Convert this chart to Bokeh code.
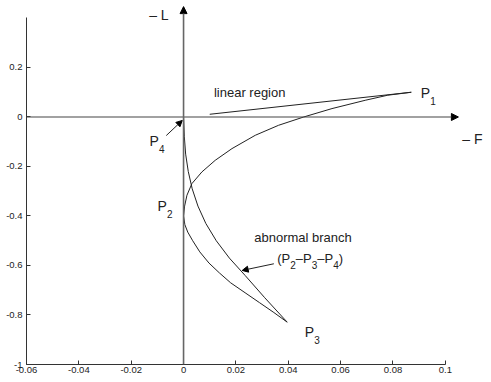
from bokeh.plotting import figure
from bokeh.models import Range1d, FixedTicker, Arrow, NormalHead, Label
from bokeh.embed import file_html
from bokeh.resources import INLINE

# ---------------- data ----------------
# outer branch: P1 -> P2 -> P3
branch_a_x = [0.087, 0.078, 0.0694, 0.0567, 0.0459, 0.0363, 0.0274, 0.0185,
              0.0121, 0.0070, 0.0032, 0.0013, 0.0004, 0.0000, 0.0005, 0.0016,
              0.0035, 0.0062, 0.0097, 0.0137, 0.0180, 0.0235, 0.0290, 0.0345,
              0.0396]
branch_a_y = [0.100, 0.088, 0.0675, 0.034, 0.0, -0.0335, -0.0739, -0.1277,
              -0.175, -0.222, -0.269, -0.316, -0.360, -0.400, -0.435, -0.465,
              -0.500, -0.545, -0.590, -0.630, -0.670, -0.710, -0.750, -0.790,
              -0.829]
# abnormal branch: P4 -> P3
branch_b_x = [0.0, 0.0003, 0.0008, 0.0018, 0.0033, 0.0055, 0.0085, 0.0125,
              0.0175, 0.0235, 0.0310, 0.0396]
branch_b_y = [0.0, -0.080, -0.150, -0.220, -0.290, -0.360, -0.430, -0.500,
              -0.570, -0.640, -0.730, -0.829]
# linear region segment
linear_x = [0.010, 0.087]
linear_y = [0.011, 0.100]

x_ticks = [-0.06, -0.04, -0.02, 0, 0.02, 0.04, 0.06, 0.08, 0.1]
x_tick_labels = ["-0.06", "-0.04", "-0.02", "0", "0.02", "0.04", "0.06", "0.08", "0.1"]
y_ticks = [-1, -0.8, -0.6, -0.4, -0.2, 0, 0.2]
y_tick_labels = ["-1", "-0.8", "-0.6", "-0.4", "-0.2", "0", "0.2"]

FONT = "Liberation Sans"
INK = "#222222"

p = figure(frame_width=462, frame_height=364,
           x_range=Range1d(-0.06, 0.1165), y_range=Range1d(-1, 0.4707),
           output_backend="svg", toolbar_location=None,
           min_border=0, min_border_left=26,
           background_fill_color="white", border_fill_color="white")
p.outline_line_color = None
p.grid.visible = False

for ax, ticks, labels, bnds in ((p.xaxis[0], x_ticks, x_tick_labels, (-0.06, 0.1)),
                                (p.yaxis[0], y_ticks, y_tick_labels, (-1, 0.4))):
    ax.ticker = FixedTicker(ticks=ticks)
    ax.major_label_overrides = {t: l for t, l in zip(ticks, labels)}
    ax.bounds = bnds
    ax.major_tick_in = 4
    ax.major_tick_out = 0
    ax.minor_tick_line_color = None
    ax.axis_line_color = "#333333"
    ax.major_tick_line_color = "#333333"
    ax.major_label_text_font = FONT
    ax.major_label_text_font_size = "9.5px"
    ax.major_label_text_color = INK
p.xaxis.major_label_standoff = 2
p.yaxis.major_label_standoff = 4

# coordinate axes with arrows
p.add_layout(Arrow(end=NormalHead(size=7, fill_color="black", line_color="black", line_width=1),
                   x_start=-0.06, y_start=0, x_end=0.105, y_end=0,
                   line_color="#444444", line_width=1.2))
p.add_layout(Arrow(end=NormalHead(size=7, fill_color="black", line_color="black", line_width=1),
                   x_start=0, y_start=-1, x_end=0, y_end=0.446,
                   line_color="#666666", line_width=1.6))

# curves
p.line(branch_a_x, branch_a_y, line_color=INK, line_width=1)
p.line(branch_b_x, branch_b_y, line_color=INK, line_width=1)
p.line(linear_x, linear_y, line_color=INK, line_width=1)

# pointer arrows
p.add_layout(Arrow(end=NormalHead(size=6, fill_color="black", line_color="black", line_width=1),
                   x_start=-0.0066, y_start=-0.075, x_end=-0.0005, y_end=-0.014,
                   line_color=INK, line_width=1))
p.add_layout(Arrow(end=NormalHead(size=6, fill_color="black", line_color="black", line_width=1),
                   x_start=0.0345, y_start=-0.593, x_end=0.0224, y_end=-0.620,
                   line_color=INK, line_width=1))


def lab(x, y, text, size="13px", align="left", xo=0, yo=0):
    p.add_layout(Label(x=x, y=y, text=text, x_offset=xo, y_offset=yo,
                       text_font=FONT, text_font_size=size, text_color=INK,
                       text_align=align, text_baseline="middle"))


def p_label(x, y, sub):
    lab(x, y, "P", size="14px")
    lab(x, y, sub, size="10px", xo=9.5, yo=-8)


lab(-0.0057, 0.414, "– L", size="14px", align="right")
lab(0.1065, -0.088, "– F", size="14px")
lab(0.0116, 0.100, "linear region")
lab(0.0270, -0.488, "abnormal branch")

p_label(0.0906, 0.095, "1")
p_label(-0.0100, -0.359, "2")
p_label(0.0463, -0.870, "3")
p_label(-0.0130, -0.095, "4")

# "(P2–P3–P4)" with subscripts
ax0, ay0 = 0.0358, -0.573
pieces = [("(", False, 4.3), ("P", False, 8.7), ("2", True, 5.6), ("–", False, 7.2),
          ("P", False, 8.7), ("3", True, 5.6), ("–", False, 7.2), ("P", False, 8.7),
          ("4", True, 5.6), (")", False, 4.3)]
off = 0.0
for t, is_sub, w in pieces:
    if is_sub:
        lab(ax0, ay0, t, size="10px", xo=off, yo=-6)
    else:
        lab(ax0, ay0, t, size="13px", xo=off)
    off += w

open("out.html", "w").write(file_html(p, INLINE))
